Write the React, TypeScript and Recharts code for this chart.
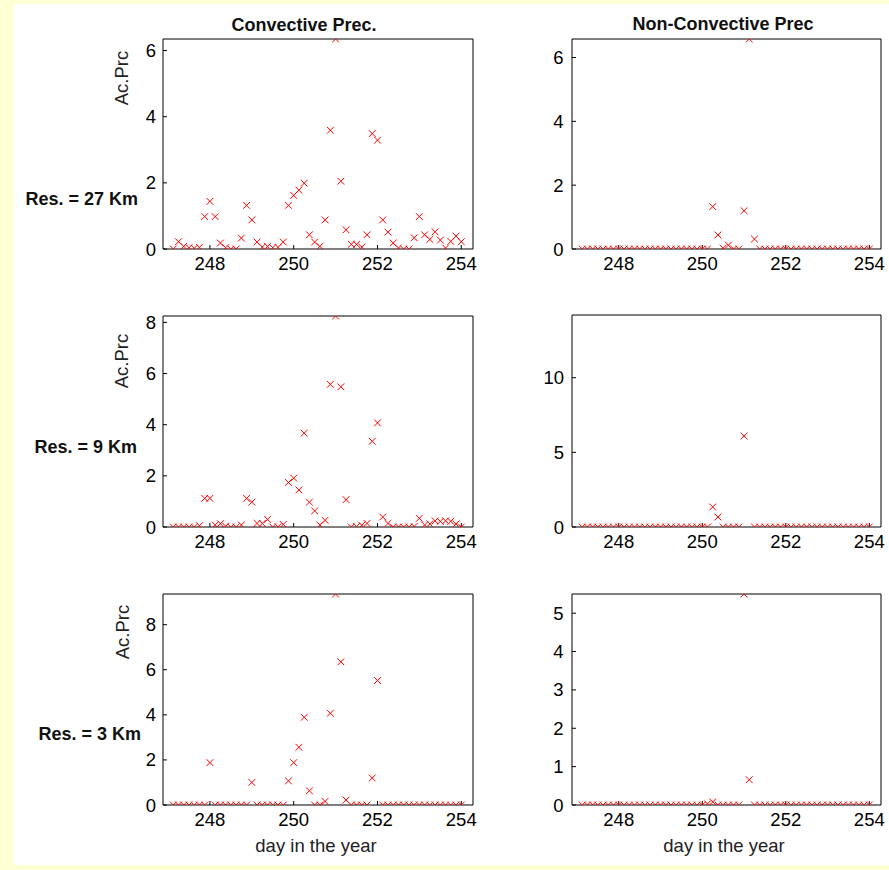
import React from "react";
import { ScatterChart, Scatter, XAxis, YAxis } from "recharts";

// day of year, 3-hourly samples
const days = [
  247.125, 247.25, 247.375, 247.5, 247.625, 247.75, 247.875, 248,
  248.125, 248.25, 248.375, 248.5, 248.625, 248.75, 248.875, 249,
  249.125, 249.25, 249.375, 249.5, 249.625, 249.75, 249.875, 250,
  250.125, 250.25, 250.375, 250.5, 250.625, 250.75, 250.875, 251,
  251.125, 251.25, 251.375, 251.5, 251.625, 251.75, 251.875, 252,
  252.125, 252.25, 252.375, 252.5, 252.625, 252.75, 252.875, 253,
  253.125, 253.25, 253.375, 253.5, 253.625, 253.75, 253.875, 254,
];

// convective precipitation
const conv27 = [
  0, 0.22, 0.08, 0.04, 0.02, 0.05, 0.98, 1.44,
  0.98, 0.18, 0.04, 0, 0, 0.33, 1.32, 0.88,
  0.21, 0.06, 0.08, 0.04, 0.05, 0.21, 1.32, 1.62,
  1.78, 1.99, 0.43, 0.21, 0.08, 0.88, 3.59, 6.35,
  2.05, 0.58, 0.14, 0.14, 0.06, 0.43, 3.49, 3.29,
  0.88, 0.51, 0.18, 0.03, 0, 0, 0.34, 0.98,
  0.43, 0.29, 0.52, 0.27, 0.03, 0.23, 0.39, 0.22,
];
const conv9 = [
  0, 0, 0, 0, 0, 0.05, 1.12, 1.12,
  0.08, 0.13, 0.03, 0, 0, 0.08, 1.12, 0.97,
  0.14, 0.14, 0.3, 0, 0.01, 0.1, 1.74, 1.91,
  1.45, 3.67, 0.97, 0.63, 0.08, 0.26, 5.58, 8.25,
  5.48, 1.07, 0, 0.02, 0.07, 0.14, 3.35, 4.07,
  0.39, 0.14, 0, 0, 0, 0, 0.02, 0.34,
  0.08, 0.12, 0.24, 0.22, 0.24, 0.22, 0.12, 0,
];
const conv3 = [
  0, 0, 0, 0, 0, 0, 0, 1.88,
  0, 0, 0, 0, 0, 0, 0, 1.0,
  0, 0, 0, 0, 0, 0, 1.07, 1.88,
  2.56, 3.89, 0.63, 0, 0, 0.16, 4.07, 9.36,
  6.35, 0.22, 0, 0, 0, 0, 1.2, 5.52,
  0, 0, 0, 0, 0, 0, 0, 0,
  0, 0, 0, 0, 0, 0, 0, 0,
];

// non-convective precipitation
const nonConv27 = [
  0, 0, 0, 0, 0, 0, 0, 0,
  0, 0, 0, 0, 0, 0, 0, 0,
  0, 0, 0, 0, 0, 0, 0, 0,
  0, 1.33, 0.44, 0.03, 0.12, 0, 0, 1.2,
  6.58, 0.31, 0, 0, 0, 0, 0, 0,
  0, 0, 0, 0, 0, 0, 0, 0,
  0, 0, 0, 0, 0, 0, 0, 0,
];
const nonConv9 = [
  0, 0, 0, 0, 0, 0, 0, 0,
  0, 0, 0, 0, 0, 0, 0, 0,
  0, 0, 0, 0, 0, 0, 0, 0,
  0, 1.34, 0.67, 0, 0, 0, 0, 6.09,
  null, 0, 0, 0, 0, 0, 0, 0,
  0, 0, 0, 0, 0, 0, 0, 0,
  0, 0, 0, 0, 0, 0, 0, 0,
];
const nonConv3 = [
  0, 0, 0, 0, 0, 0, 0, 0,
  0, 0, 0, 0, 0, 0, 0, 0,
  0, 0, 0, 0, 0, 0, 0, 0,
  0.03, 0.08, 0, 0, 0, 0, 0, 5.5,
  0.66, 0, 0, 0, 0, 0, 0, 0,
  0, 0, 0, 0, 0, 0, 0, 0,
  0, 0, 0, 0, 0, 0, 0, 0,
];

const xDomain = [246.88, 254.28];
const xTicks = [248, 250, 252, 254];

const FONT = '"Liberation Sans", Arial, Helvetica, sans-serif';
const RED = "#ff0000";
const FS = 18.5;

function Cross(props: any) {
  const { cx, cy } = props;
  if (cx == null || cy == null || isNaN(cx) || isNaN(cy)) return null;
  const r = 3.4;
  return (
    <path
      d={`M${cx - r},${cy - r}L${cx + r},${cy + r}M${cx - r},${cy + r}L${cx + r},${cy - r}`}
      stroke={RED}
      strokeWidth={1}
      fill="none"
    />
  );
}

interface PanelProps {
  left: number;
  top: number;
  width: number;
  height: number;
  values: (number | null)[];
  yMax: number;
  yTicks: number[];
  labelGap: number;
}

function Panel({ left, top, width, height, values, yMax, yTicks, labelGap }: PanelProps) {
  const data = days
    .map((d, i) => ({ day: d, prc: values[i] }))
    .filter((p) => p.prc !== null);
  const AX_W = 45;
  const AX_H = 35;
  const PAD_T = 10;
  const PAD_R = 10;
  const tickStyle = { fill: "#000", fontSize: FS, fontFamily: FONT };
  return (
    <div style={{ position: "absolute", left: left - AX_W, top: top - PAD_T }}>
      <ScatterChart
        width={width + AX_W + PAD_R}
        height={height + PAD_T + AX_H}
        margin={{ top: PAD_T - 1, right: PAD_R - 1, bottom: 0, left: 0 }}
      >
        <XAxis
          xAxisId="b"
          type="number"
          dataKey="day"
          domain={xDomain}
          ticks={xTicks}
          interval={0}
          orientation="bottom"
          height={AX_H}
          stroke="#000"
          tickSize={-4}
          tickMargin={12}
          tick={tickStyle}
          allowDataOverflow
        />
        <XAxis
          xAxisId="t"
          type="number"
          domain={xDomain}
          ticks={xTicks}
          interval={0}
          orientation="top"
          height={1}
          stroke="#000"
          tickSize={-4}
          tick={false}
          allowDataOverflow
        />
        <YAxis
          yAxisId="l"
          type="number"
          dataKey="prc"
          domain={[0, yMax]}
          ticks={yTicks}
          interval={0}
          orientation="left"
          width={AX_W}
          stroke="#000"
          tickSize={-4}
          tickMargin={4 + labelGap}
          tick={tickStyle}
          allowDataOverflow
        />
        <YAxis
          yAxisId="r"
          type="number"
          domain={[0, yMax]}
          ticks={yTicks}
          interval={0}
          orientation="right"
          width={1}
          stroke="#000"
          tickSize={-4}
          tick={false}
          allowDataOverflow
        />
        <Scatter
          xAxisId="b"
          yAxisId="l"
          data={data}
          shape={<Cross />}
          isAnimationActive={false}
        />
      </ScatterChart>
    </div>
  );
}

export default function App() {
  return (
    <div
      style={{
        position: "absolute",
        left: 0,
        top: 0,
        width: 889,
        height: 870,
        background: "#ffffd4",
        overflow: "hidden",
      }}
    >
      <div style={{ position: "absolute", left: 14, top: 4, width: 875, height: 861, background: "#fff" }} />

      <Panel left={163} top={39} width={310} height={210} values={conv27} yMax={6.35} yTicks={[0, 2, 4, 6]} labelGap={7} />
      <Panel left={572} top={39} width={309} height={210} values={nonConv27} yMax={6.58} yTicks={[0, 2, 4, 6]} labelGap={8.5} />
      <Panel left={163} top={316} width={310} height={211} values={conv9} yMax={8.25} yTicks={[0, 2, 4, 6, 8]} labelGap={7} />
      <Panel left={572} top={315} width={309} height={212} values={nonConv9} yMax={14.2} yTicks={[0, 5, 10]} labelGap={8} />
      <Panel left={163} top={594} width={310} height={211} values={conv3} yMax={9.36} yTicks={[0, 2, 4, 6, 8]} labelGap={7} />
      <Panel left={572} top={594} width={309} height={211} values={nonConv3} yMax={5.5} yTicks={[0, 1, 2, 3, 4, 5]} labelGap={8.5} />

      <svg
        width={889}
        height={870}
        style={{ position: "absolute", left: 0, top: 0, pointerEvents: "none" }}
        fontFamily={FONT}
      >
        <text x={304} y={30.5} textAnchor="middle" fontSize={18} fontWeight="bold" fill="#111">
          Convective Prec.
        </text>
        <text x={723} y={29.5} textAnchor="middle" fontSize={18} fontWeight="bold" fill="#111">
          Non-Convective Prec
        </text>

        <text x={138} y={205} textAnchor="end" fontSize={18} fontWeight="bold" fill="#111">
          Res. = 27 Km
        </text>
        <text x={137} y={453} textAnchor="end" fontSize={18} fontWeight="bold" fill="#111">
          Res. = 9 Km
        </text>
        <text x={141} y={740} textAnchor="end" fontSize={18} fontWeight="bold" fill="#111">
          Res. = 3 Km
        </text>

        <text transform="translate(128,78) rotate(-90)" textAnchor="middle" fontSize={FS} fill="#222">
          Ac.Prc
        </text>
        <text transform="translate(128,361) rotate(-90)" textAnchor="middle" fontSize={FS} fill="#222">
          Ac.Prc
        </text>
        <text transform="translate(129,632) rotate(-90)" textAnchor="middle" fontSize={FS} fill="#222">
          Ac.Prc
        </text>

        <text x={316} y={851.5} textAnchor="middle" fontSize={FS} fill="#222">
          day in the year
        </text>
        <text x={724} y={851.5} textAnchor="middle" fontSize={FS} fill="#222">
          day in the year
        </text>
      </svg>
    </div>
  );
}
